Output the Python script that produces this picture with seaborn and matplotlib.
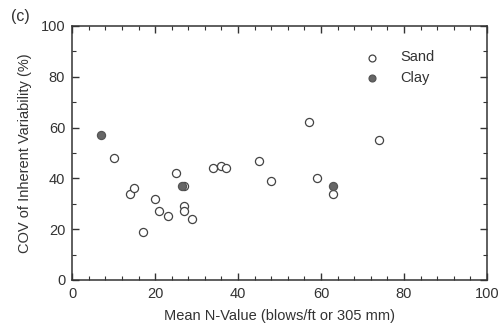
import matplotlib
matplotlib.use("Agg")
import matplotlib.pyplot as plt
from matplotlib.ticker import MultipleLocator
import seaborn as sns
import pandas as pd

sns.set_style("ticks")
plt.rcParams['font.family'] = ['Liberation Sans', 'DejaVu Sans']

sand_n = [10, 14, 15, 17, 20, 21, 23, 25, 27, 27, 27, 29, 34, 36, 37, 45, 48, 57, 59, 63, 74]
sand_cov = [48, 34, 36, 19, 32, 27, 25, 42, 37, 29, 27, 24, 44, 45, 44, 47, 39, 62, 40, 34, 55]
clay_n = [7, 26.5, 63]
clay_cov = [57, 37, 37]

df = pd.DataFrame({
    "n": sand_n + clay_n,
    "cov": sand_cov + clay_cov,
    "soil": ["Sand"] * len(sand_n) + ["Clay"] * len(clay_n),
})

ink = "#333333"
fig = plt.figure(figsize=(5.01, 3.24), dpi=100)
ax = fig.add_axes([0.144, 0.136, 0.828, 0.784])

sns.scatterplot(data=df[df.soil == "Sand"], x="n", y="cov", ax=ax, s=34,
                facecolor="white", edgecolor="#444444", linewidth=0.9,
                label="Sand", zorder=3)
sns.scatterplot(data=df[df.soil == "Clay"], x="n", y="cov", ax=ax, s=34,
                color="#666666", edgecolor="#555555", linewidth=0.9,
                label="Clay", zorder=3)

ax.set_xlim(0, 100)
ax.set_ylim(0, 100)
ax.xaxis.set_major_locator(MultipleLocator(20))
ax.xaxis.set_minor_locator(MultipleLocator(4))
ax.yaxis.set_major_locator(MultipleLocator(20))
ax.yaxis.set_minor_locator(MultipleLocator(10))
ax.tick_params(which="both", direction="in", top=True, right=True, colors=ink,
               labelsize=10.5, labelcolor=ink)
ax.tick_params(which="major", length=5, width=1.0, pad=5)
ax.tick_params(which="minor", length=3, width=0.8)
for sp in ax.spines.values():
    sp.set_color(ink)
    sp.set_linewidth(1.1)

ax.set_xlabel("Mean N-Value (blows/ft or 305 mm)", fontsize=10.5, color=ink, labelpad=6)
ax.set_ylabel("COV of Inherent Variability (%)", fontsize=10.5, color=ink, labelpad=6)

leg = ax.legend(loc="upper right", bbox_to_anchor=(0.905, 0.955), frameon=False,
                fontsize=10.5, handletextpad=1.4, labelspacing=0.45,
                handlelength=1.0, markerscale=0.85)
for t in leg.get_texts():
    t.set_color(ink)

fig.text(0.022, 0.935, "(c)", fontsize=11.5, color=ink)

fig.savefig("out.png", dpi=100)
